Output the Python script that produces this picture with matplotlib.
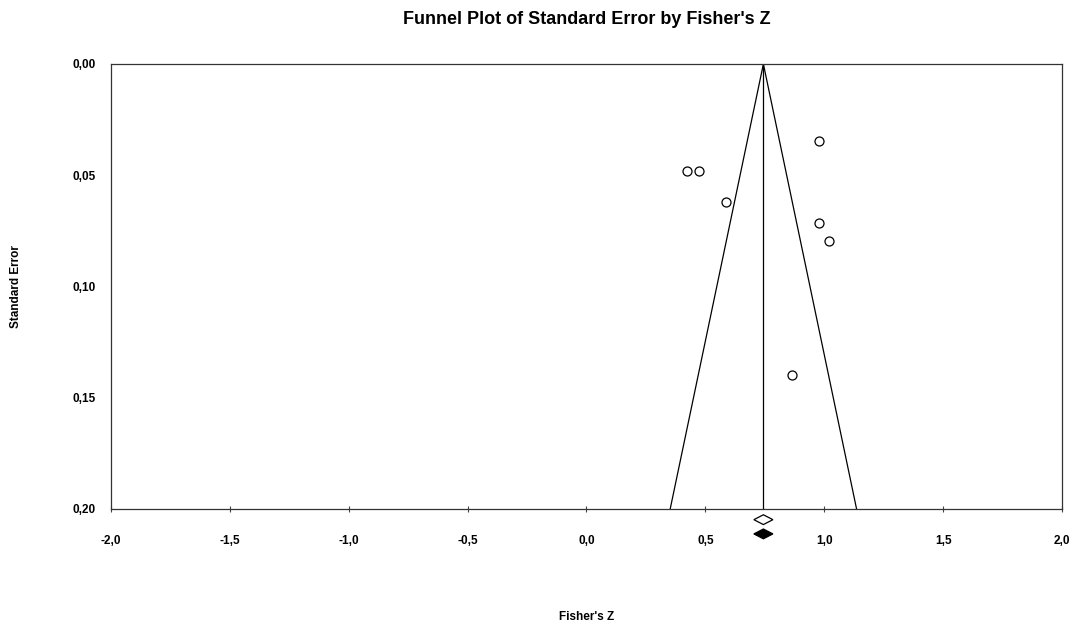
import numpy as np
import matplotlib.pyplot as plt
from matplotlib.patches import Polygon

plt.rcParams['font.family'] = ['Liberation Sans', 'DejaVu Sans']

# study effects (Fisher's Z) and their standard errors
fisher_z = [0.421, 0.475, 0.587, 0.980, 0.980, 1.018, 0.866]
std_err = [0.0481, 0.0481, 0.0620, 0.0348, 0.0715, 0.0795, 0.1398]

# combined effect
mean_z = 0.744
se_max = 0.20

xticks = [-2.0, -1.5, -1.0, -0.5, 0.0, 0.5, 1.0, 1.5, 2.0]
yticks = [0.00, 0.05, 0.10, 0.15, 0.20]

fig = plt.figure(figsize=(10.84, 6.28), dpi=100)
ax = fig.add_axes([0.1024, 0.1895, 0.8773, 0.7086])

# funnel limits (95%)
se_line = np.array([0.0, se_max])
ax.plot(mean_z - 1.96 * se_line, se_line, color='black', lw=0.9)
ax.plot(mean_z + 1.96 * se_line, se_line, color='black', lw=0.9)
ax.plot([mean_z, mean_z], [0, se_max], color='black', lw=0.9)

ax.scatter(fisher_z, std_err, s=42, facecolor='white', edgecolor='black',
           linewidths=0.9, zorder=3)

# diamonds under the axis: open = observed, filled = adjusted
hw, hh = 0.04, 0.0022
for yc, fc in [(0.2048, 'white'), (0.2112, 'black')]:
    d = Polygon([[mean_z - hw, yc], [mean_z, yc - hh], [mean_z + hw, yc], [mean_z, yc + hh]],
                closed=True, facecolor=fc, edgecolor='black', lw=0.9, clip_on=False)
    ax.add_patch(d)

ax.set_xlim(-2.0, 2.0)
ax.set_ylim(se_max, 0.0)
ax.set_xticks(xticks)
ax.set_yticks(yticks)
ax.set_xticklabels([('%.1f' % v).replace('.', ',') for v in xticks],
                   fontsize=8.5, fontweight='bold')
ax.set_yticklabels([('%.2f' % v).replace('.', ',') for v in yticks],
                   fontsize=8.5, fontweight='bold')
ax.tick_params(axis='x', direction='inout', length=5, width=0.8, pad=16, color='#444444')
ax.tick_params(axis='y', length=0, pad=11)
for s in ax.spines.values():
    s.set_color('#333333')
    s.set_linewidth(0.9)

ax.set_xlabel("Fisher's Z", fontsize=8.5, fontweight='bold', labelpad=46)
ax.set_ylabel('Standard Error', fontsize=8.5, fontweight='bold', labelpad=36)
ax.set_title("Funnel Plot of Standard Error by Fisher's Z", fontsize=13,
             fontweight='bold', pad=29)

fig.savefig('out.png', dpi=100)
